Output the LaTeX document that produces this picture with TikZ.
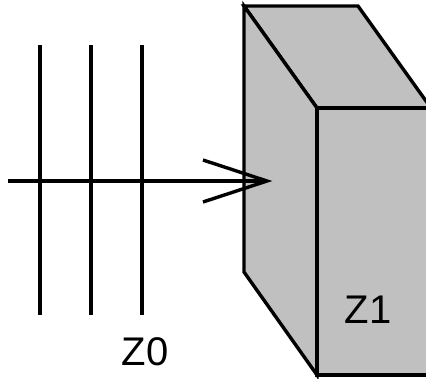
\documentclass[tikz,border=0pt]{standalone}
\usepackage{fontspec}
\setmainfont{Liberation Sans}
\definecolor{boxgray}{RGB}{192,192,192}
\tikzset{
  ln/.style={draw=black,line width=3.4pt,line cap=butt,line join=miter},
  face/.style={ln,fill=boxgray},
  lab/.style={font=\fontsize{40}{40}\selectfont,inner sep=0pt,anchor=base}
}
\begin{document}
\begin{tikzpicture}[x=1pt,y=-1pt]
\useasboundingbox (0,0) rectangle (426,378);
\clip (0,0) rectangle (426,378);
\coordinate (a) at (244,6);
\coordinate (b) at (358,6);
\coordinate (d) at (317,108);
\coordinate (e) at (317,375);
\coordinate (f) at (244,272);
\coordinate (g) at (431,108);
\coordinate (h) at (431,375);
\draw[face] (a) -- (b) -- (g) -- (d) -- cycle;
\draw[face] (a) -- (d) -- (e) -- (f) -- cycle;
\draw[face] (d) -- (g) -- (h) -- (e) -- cycle;
\foreach \n/\x in {p/40,q/91,r/142}{
  \coordinate (\n1) at (\x,45);
  \coordinate (\n2) at (\x,315);
  \draw[ln] (\n1) -- (\n2);
}
\coordinate (s) at (8,181);
\coordinate (t) at (267,181);
\coordinate (u) at (203,160);
\coordinate (v) at (203,202);
\draw[ln] (s) -- (t);
\draw[ln] (u) -- (t) -- (v);
\node[lab] (z0) at (145,365) {Z0};
\node[lab] (z1) at (368,323) {Z1};
\end{tikzpicture}
\end{document}
